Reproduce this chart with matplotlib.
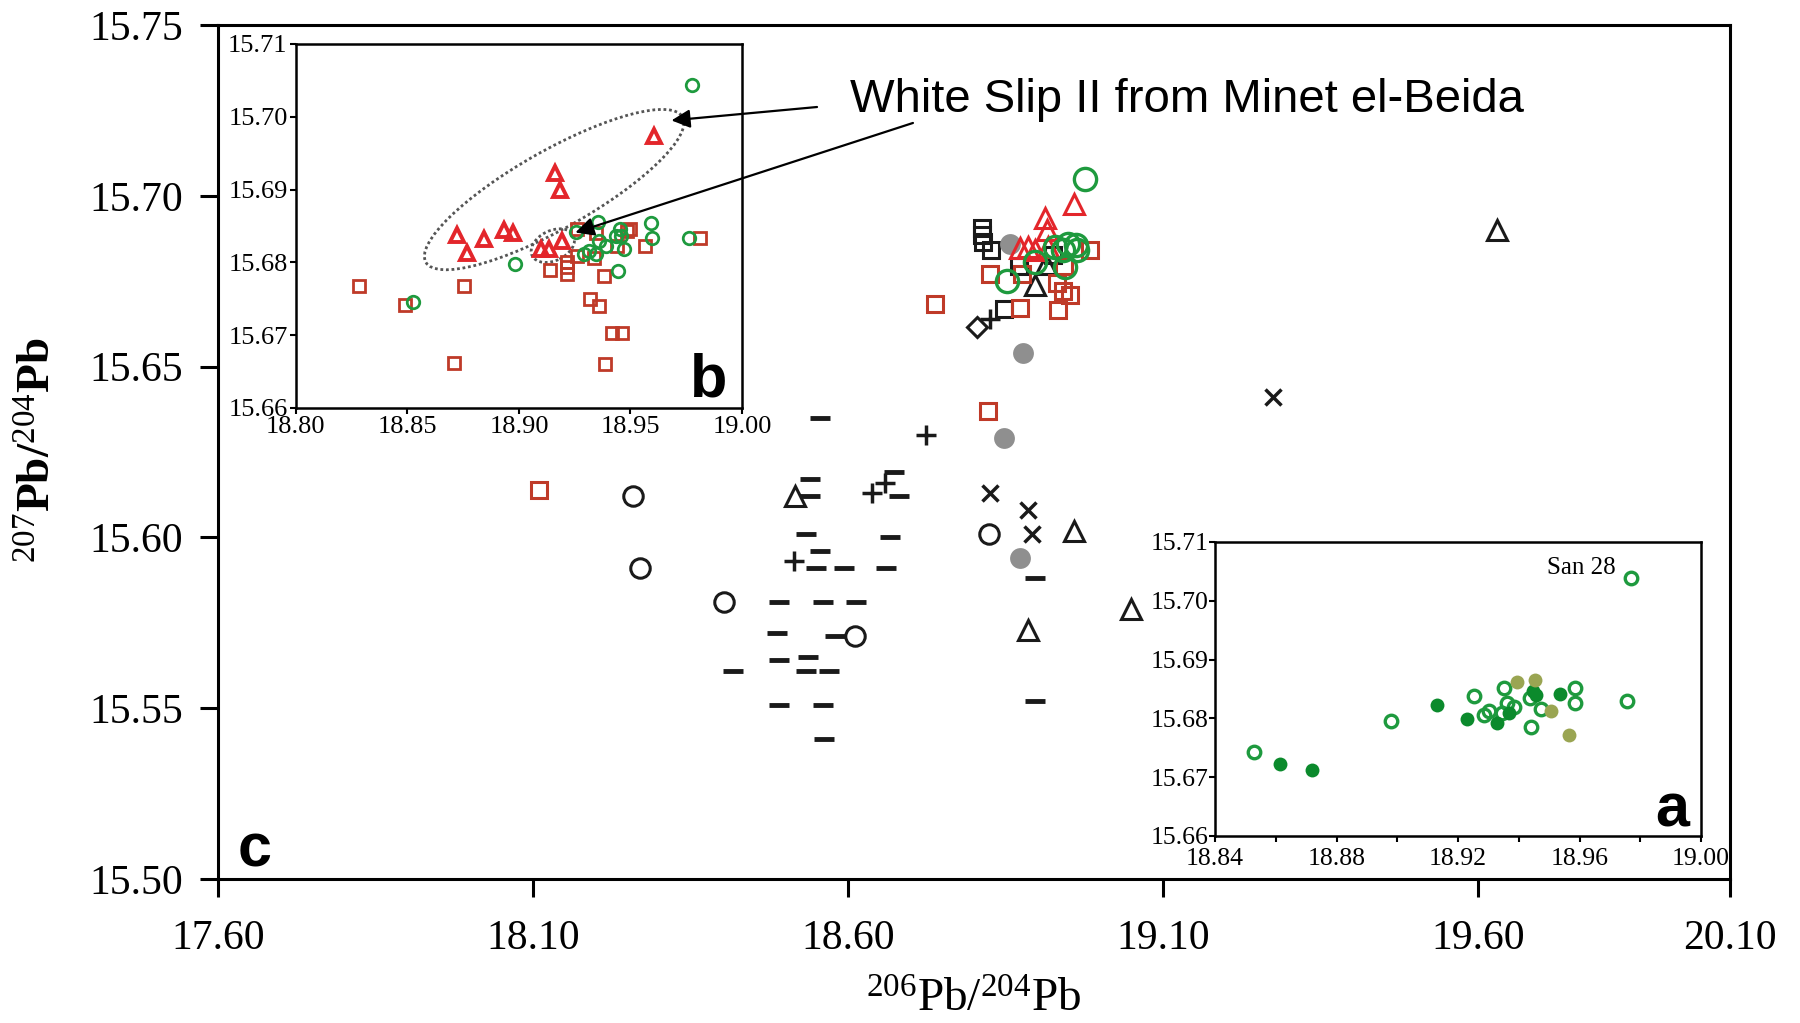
import matplotlib
matplotlib.use("Agg")
import matplotlib.pyplot as plt
from matplotlib.patches import Ellipse
from matplotlib.transforms import ScaledTranslation

plt.rcParams['font.family'] = ['Liberation Serif', 'DejaVu Serif']
plt.rcParams['mathtext.fontset'] = 'custom'
plt.rcParams['mathtext.rm'] = 'Liberation Serif'
plt.rcParams['mathtext.it'] = 'Liberation Serif:italic'
plt.rcParams['mathtext.bf'] = 'Liberation Serif:bold'

# ---------------- main panel (c) data ----------------
dash_x = [18.556, 18.539, 18.540, 18.533, 18.556, 18.550, 18.593, 18.660, 18.666, 18.673,
          18.681, 18.490, 18.561, 18.613, 18.487, 18.579, 18.490, 18.537, 18.533, 18.570,
          18.417, 18.490, 18.561, 18.562, 18.897, 18.897]
dash_y = [15.635, 15.617, 15.612, 15.601, 15.596, 15.591, 15.591, 15.591, 15.600, 15.619,
          15.612, 15.581, 15.581, 15.581, 15.572, 15.571, 15.564, 15.565, 15.561, 15.561,
          15.561, 15.551, 15.551, 15.541, 15.588, 15.552]
plus_x = [18.515, 18.638, 18.659, 18.724, 18.825]
plus_y = [15.593, 15.613, 15.616, 15.630, 15.664]
bcirc_x = [18.258, 18.270, 18.404, 18.611, 18.824]
bcirc_y = [15.612, 15.591, 15.581, 15.571, 15.601]
cross_x = [18.825, 18.886, 18.892, 19.274]
cross_y = [15.613, 15.608, 15.601, 15.641]
btri_x = [18.516, 18.958, 18.886, 19.049, 19.630, 18.915, 18.897]
btri_y = [15.612, 15.602, 15.573, 15.579, 15.690, 15.680, 15.674]
bsq_x = [18.812, 18.812, 18.815, 18.827, 18.925, 18.872, 18.848]
bsq_y = [15.6905, 15.6885, 15.6865, 15.684, 15.6826, 15.6794, 15.6668]
bdia_x = [18.805]
bdia_y = [15.6617]
gray_x = [18.857, 18.878, 18.848, 18.873]
gray_y = [15.686, 15.654, 15.629, 15.594]
rsq_x = [18.110, 18.822, 18.738, 18.825, 18.876, 18.873, 18.931, 18.942, 18.952, 18.934,
         18.984, 18.943]
rsq_y = [15.614, 15.637, 15.6683, 15.677, 15.677, 15.667, 15.6744, 15.672, 15.671, 15.6666,
         15.684, 15.6794]
rtri_x = [18.912, 18.916, 18.959, 18.873, 18.886, 18.897, 18.918]
rtri_y = [15.6935, 15.690, 15.6976, 15.6846, 15.685, 15.684, 15.685]
gcirc_x = [18.976, 18.929, 18.950, 18.962, 18.942, 18.963, 18.897, 18.944, 18.852]
gcirc_y = [15.7048, 15.685, 15.686, 15.6856, 15.684, 15.684, 15.6807, 15.679, 15.675]

main_xticks = [17.6, 18.1, 18.6, 19.1, 19.6, 20.0]
main_xticklabels = ['17.60', '18.10', '18.60', '19.10', '19.60', '20.10']
main_yticks = [15.50, 15.55, 15.60, 15.65, 15.70, 15.75]

# ---------------- inset b data ----------------
b_tri_x = [18.9605, 18.9163, 18.9186, 18.8721, 18.8767, 18.8845, 18.8935, 18.8974, 18.9098,
           18.9136, 18.9195]
b_tri_y = [15.6974, 15.6923, 15.6900, 15.6837, 15.6813, 15.6832, 15.6845, 15.6840, 15.6818,
           15.6818, 15.6829]
b_circ_x = [18.9775, 18.9256, 18.9353, 18.9454, 18.9457, 18.9594, 18.9597, 18.9764, 18.9358,
            18.9389, 18.9473, 18.9291, 18.9315, 18.9346, 18.9442, 18.8981, 18.8527, 18.9436]
b_circ_y = [15.7044, 15.6842, 15.6855, 15.6846, 15.6836, 15.6854, 15.6833, 15.6833, 15.6829,
            15.6823, 15.6818, 15.6812, 15.6816, 15.6812, 15.6788, 15.6798, 15.6745, 15.6836]
b_sq_x = [18.8281, 18.8490, 18.8752, 18.8710, 18.9141, 18.9214, 18.9217, 18.9217, 18.9260,
          18.9260, 18.9346, 18.9338, 18.9380, 18.9318, 18.9357, 18.9419, 18.9462, 18.9384,
          18.9439, 18.9485, 18.9496, 18.9566, 18.9814]
b_sq_y = [15.6767, 15.6741, 15.6767, 15.6662, 15.6790, 15.6800, 15.6793, 15.6784, 15.6846,
          15.6809, 15.6840, 15.6806, 15.6781, 15.6750, 15.6740, 15.6703, 15.6703, 15.6660,
          15.6822, 15.6843, 15.6846, 15.6823, 15.6833]
b_xticks = [18.80, 18.85, 18.90, 18.95, 19.00]
b_yticks = [15.66, 15.67, 15.68, 15.69, 15.70, 15.71]

# ---------------- inset a data ----------------
a_open_x = [18.977, 18.8529, 18.898, 18.9253, 18.935, 18.936, 18.9386, 18.9303, 18.9285,
            18.9344, 18.9438, 18.9473, 18.9441, 18.9586, 18.9586, 18.9758]
a_open_y = [15.7039, 15.6743, 15.6796, 15.6838, 15.6851, 15.6827, 15.6820, 15.6812, 15.6806,
            15.6810, 15.6835, 15.6816, 15.6785, 15.6851, 15.6827, 15.6830]
a_fill_x = [18.8613, 18.872, 18.9131, 18.9231, 18.9328, 18.9369, 18.9447, 18.9456, 18.9536]
a_fill_y = [15.6723, 15.6712, 15.6822, 15.6799, 15.6792, 15.6809, 15.6846, 15.6840, 15.6842]
a_olive_x = [18.9394, 18.9455, 18.9507, 18.9566]
a_olive_y = [15.6862, 15.6865, 15.6813, 15.6772]
a_xticks = [18.84, 18.88, 18.92, 18.96, 19.00]
a_xminor = [18.86, 18.90, 18.94, 18.98]
a_yticks = [15.66, 15.67, 15.68, 15.69, 15.70, 15.71]

BLACK = '#1a1a1a'
RED_T = '#e3262b'
RED_S = '#bf3a28'
GREEN = '#1e9a3e'
DGREEN = '#0b8a2c'
OLIVE = '#9aa552'
GRAY = '#8f8f8f'

fig = plt.figure(figsize=(18, 10.23), dpi=100)

# ---------------- main axes ----------------
ax = fig.add_axes([0.1211, 0.1408, 0.8400, 0.8348])
ax.plot(dash_x, dash_y, ls='none', marker='_', ms=14, mew=3.5, color=BLACK)
ax.plot(plus_x, plus_y, ls='none', marker='+', ms=14, mew=2.5, color=BLACK)
ax.plot(bcirc_x, bcirc_y, ls='none', marker='o', ms=14, mew=2.2, mfc='none', mec=BLACK)
ax.plot(cross_x, cross_y, ls='none', marker='x', ms=11, mew=2.5, color=BLACK)
ax.plot(btri_x, btri_y, ls='none', marker='^', ms=14, mew=2.2, mfc='none', mec=BLACK)
ax.plot(bsq_x, bsq_y, ls='none', marker='s', ms=11, mew=2.2, mfc='none', mec=BLACK)
ax.plot(bdia_x, bdia_y, ls='none', marker='D', ms=10, mew=2.2, mfc='none', mec=BLACK)
ax.plot(gray_x, gray_y, ls='none', marker='o', ms=15, mew=0, color=GRAY)
ax.plot(rsq_x, rsq_y, ls='none', marker='s', ms=11, mew=2.2, mfc='none', mec=RED_S)
ax.plot(rtri_x, rtri_y, ls='none', marker='^', ms=14, mew=2.2, mfc='none', mec=RED_T)
ax.plot(gcirc_x, gcirc_y, ls='none', marker='o', ms=16, mew=2.4, mfc='none', mec=GREEN)

ax.set_xlim(main_xticks[0], main_xticks[-1])
ax.set_ylim(main_yticks[0], main_yticks[-1])
ax.set_xticks(main_xticks)
ax.set_xticklabels(main_xticklabels)
ax.set_yticks(main_yticks)
ax.set_yticklabels([f'{v:.2f}' for v in main_yticks])
ax.tick_params(direction='out', length=13, width=2.2, labelsize=30, pad=12)
ax.tick_params(axis='x', pad=16)
for s in ax.spines.values():
    s.set_linewidth(2.2)
ax.text(0.024, 0.015, 'c', transform=ax.transAxes, family='Liberation Sans',
        fontweight='bold', fontsize=44, ha='center', va='baseline')

fig.text(0.541, 0.022, r'$^{206}$Pb/$^{204}$Pb', ha='center', va='center', fontsize=34)
fig.text(0.022, 0.56, r'$^{207}$Pb/$^{204}$Pb', ha='center', va='center', fontsize=34,
         rotation=90, fontweight='bold')

# ---------------- inset b ----------------
axb = fig.add_axes([0.1644, 0.6012, 0.2478, 0.3558])
axb.plot(b_sq_x, b_sq_y, ls='none', marker='s', ms=8, mew=2.0, mfc='none', mec=RED_S)
axb.plot(b_circ_x, b_circ_y, ls='none', marker='o', ms=9, mew=2.0, mfc='none', mec=GREEN)
axb.plot(b_tri_x, b_tri_y, ls='none', marker='^', ms=10.5, mew=2.8, mfc='none', mec=RED_T)
axb.set_xlim(b_xticks[0], b_xticks[-1])
axb.set_ylim(b_yticks[0], b_yticks[-1])
axb.set_xticks(b_xticks)
axb.set_xticklabels([f'{v:.2f}' for v in b_xticks])
axb.set_yticks(b_yticks)
axb.set_yticklabels([f'{v:.2f}' for v in b_yticks])
axb.tick_params(direction='out', length=4, width=1.5, labelsize=19, pad=2)
for s in axb.spines.values():
    s.set_linewidth(1.8)
axb.text(0.925, 0.032, 'b', transform=axb.transAxes, family='Liberation Sans',
         fontweight='bold', fontsize=44, ha='center', va='baseline')

# dotted ellipses (sizes in inches, centred on data points)
big_c = (18.9158, 15.6900)
small_c = (18.9152, 15.6823)
for (cx, cy), w, h, ang in [(big_c, 2.95, 0.78, 29.5), (small_c, 0.46, 0.30, 26)]:
    tr = fig.dpi_scale_trans + ScaledTranslation(cx, cy, axb.transData)
    axb.add_patch(Ellipse((0, 0), width=w, height=h, angle=ang, transform=tr,
                          fill=False, ls=(0, (1, 1)), lw=2.0, ec='#555555'))

fig.text(0.472, 0.902, 'White Slip II from Minet el-Beida', family='Liberation Sans',
         fontsize=34, ha='left', va='center')
for tip, start in [((18.9684, 15.6995), (0.4539, 0.8954)),
                   ((18.9253, 15.6841), (0.5072, 0.8798))]:
    axb.annotate('', xy=tip, xycoords='data', xytext=start, textcoords='figure fraction',
                 annotation_clip=False,
                 arrowprops=dict(arrowstyle='-|>', color='black', lw=1.6,
                                 mutation_scale=28, shrinkA=0, shrinkB=0))

# ---------------- inset a ----------------
axa = fig.add_axes([0.675, 0.1828, 0.27, 0.2874])
axa.plot(a_open_x, a_open_y, ls='none', marker='o', ms=9, mew=2.4, mfc='none', mec=GREEN)
axa.plot(a_fill_x, a_fill_y, ls='none', marker='o', ms=10, mew=0, color=DGREEN)
axa.plot(a_olive_x, a_olive_y, ls='none', marker='o', ms=10, mew=0, color=OLIVE)
axa.set_xlim(a_xticks[0], a_xticks[-1])
axa.set_ylim(a_yticks[0], a_yticks[-1])
axa.set_xticks(a_xticks)
axa.set_xticklabels([f'{v:.2f}' for v in a_xticks])
axa.set_xticks(a_xminor, minor=True)
axa.set_yticks(a_yticks)
axa.set_yticklabels([f'{v:.2f}' for v in a_yticks])
axa.tick_params(axis='y', direction='out', length=4, width=1.5, labelsize=18.5, pad=1)
axa.tick_params(axis='x', direction='out', length=4, width=1.5, labelsize=18.5, pad=5)
axa.tick_params(which='minor', direction='out', length=4, width=1.5)
for s in axa.spines.values():
    s.set_linewidth(1.8)
axa.text(18.9607, 15.7056, 'San 28', ha='center', va='center', fontsize=18)
axa.text(0.941, 0.031, 'a', transform=axa.transAxes, family='Liberation Sans',
         fontweight='bold', fontsize=44, ha='center', va='baseline')

fig.savefig('out.png', dpi=100, facecolor='white')
